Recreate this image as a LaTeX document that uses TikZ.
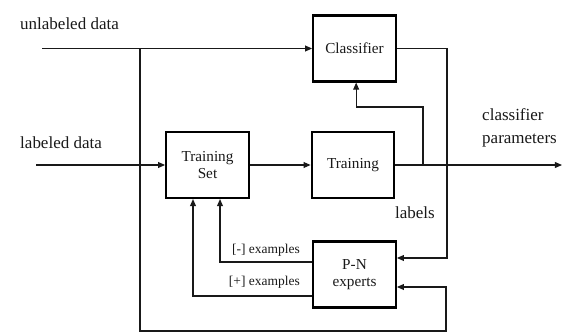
\documentclass[tikz,border=0pt]{standalone}
\usepackage{fontspec}
\setmainfont{Liberation Serif}
\usetikzlibrary{arrows.meta}
\begin{document}
\begin{tikzpicture}[x=0.03cm,y=-0.03cm,
    blk/.style={draw,line width=1.8pt,minimum width=2.48cm,minimum height=1.98cm,inner sep=0pt,align=center,text=black!90,font=\fontsize{13}{15}\selectfont},
    wire/.style={line width=0.9pt,black!90},
    feed/.style={wire,-{Triangle[length=6pt,width=5pt]}},
    lbl/.style={inner sep=0pt,text=black!90,font=\fontsize{14.5}{19.5}\selectfont},
    ex/.style={inner sep=0pt,text=black!90,font=\fontsize{11.5}{13}\selectfont}]
    \useasboundingbox (0,0) rectangle (563,333);
    \node[blk] (cls) at (354.5,48.5) {Classifier};
    \node[blk] (tset) at (207.5,165) {Training\\Set};
    \node[blk] (trn) at (353,165) {Training};
    \node[blk] (pn) at (354.5,274.5) {P-N\\experts};
    \coordinate (uin) at (42,48.5);
    \coordinate (split) at (140,48.5);
    \coordinate (loop) at (446,331);
    \coordinate (lin) at (36,165);
    \coordinate (pout) at (562,165);
    \coordinate (tap) at (423,165);
    \coordinate (cout) at (447,48.5);
    \draw[feed] (uin) -- (cls);
    \draw[feed] (split) |- (loop) |- ([yshift=-0.375cm]pn.east);
    \draw[feed] (lin) -- (tset);
    \draw[feed] (tset) -- (trn);
    \draw[feed] (trn) -- (pout);
    \draw[feed] (tap) -- ++(0,-58) -| ([xshift=0.05cm]cls.south);
    \draw[feed] (cls.east) -- (cout) |- ([yshift=0.495cm]pn.east);
    \draw[feed] ([yshift=0.375cm]pn.west) -| ([xshift=0.375cm]tset.south);
    \draw[feed] ([yshift=-0.645cm]pn.west) -| ([xshift=-0.435cm]tset.south);
    \node[lbl,anchor=west] (ulab) at (20,24) {unlabeled data};
    \node[lbl,anchor=west] (llab) at (20,143) {labeled data};
    \node[lbl,anchor=west,align=left] (cpar) at (482,128) {classifier\\parameters};
    \node[lbl] (labs) at (415,213) {labels};
    \node[ex,anchor=east] (neg) at (300,250) {[-] examples};
    \node[ex,anchor=east] (pos) at (300,282) {[+] examples};
\end{tikzpicture}
\end{document}
